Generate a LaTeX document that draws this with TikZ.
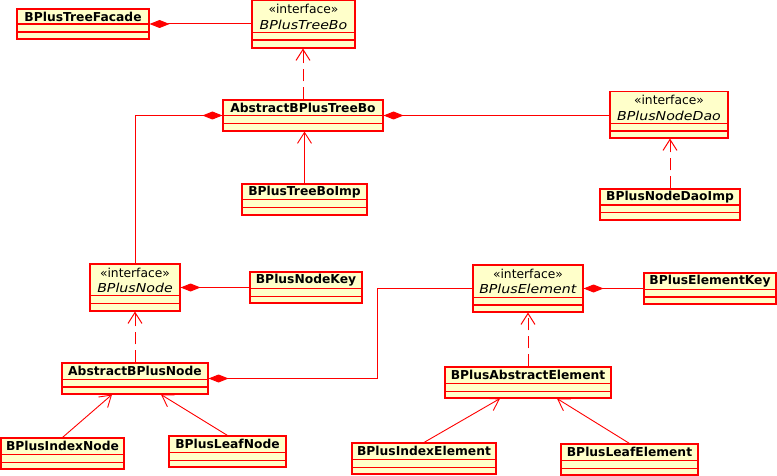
\documentclass[tikz,border=0pt]{standalone}
\usepackage{graphicx}
\usepackage{fontspec}
\setmainfont{DejaVu Sans}[BoldFont={DejaVu Sans Bold},ItalicFont={DejaVu Sans Oblique}]
\usetikzlibrary{arrows.meta,calc}
\definecolor{umlfill}{RGB}{255,255,202}
\definecolor{umlred}{RGB}{255,0,0}
\tikzset{
  umlbox/.style={draw=umlred, fill=umlfill, line width=1.1pt, inner sep=0pt},
  boxline/.style={draw=umlred, line width=1.1pt},
  clslabel/.style={font=\bfseries\fontsize{12.3}{14}\selectfont, inner sep=0pt},
  ifclabel/.style={font=\fontsize{12.3}{15.5}\selectfont, inner sep=0pt, align=center},
  assoc/.style={draw=umlred, line width=1pt, {Diamond[length=20pt,width=8pt]}-},
  realize/.style={draw=umlred, line width=1pt, dash pattern=on 12pt off 6pt, -{Straight Barb[length=11pt,width=14pt]}},
  navig/.style={draw=umlred, line width=0.9pt, -{Straight Barb[length=11pt,width=14pt]}}
}
\newcommand{\umlcls}[8]{%
  \node[umlbox, minimum width={(#4-#2)*1pt}, minimum height={(#5-#3)*1pt}] (#1) at ({(#2+#4)/2},{(#3+#5)/2}) {};
  \draw[boxline] (#2,#6) -- (#4,#6);
  \draw[boxline] (#2,#7) -- (#4,#7);
  \node[clslabel] (#1-t) at ({(#2+#4)/2},{(#3+#6)/2}) {#8};
}
\newcommand{\umlifc}[8]{%
  \node[umlbox, minimum width={(#4-#2)*1pt}, minimum height={(#5-#3)*1pt}] (#1) at ({(#2+#4)/2},{(#3+#5)/2}) {};
  \draw[boxline] (#2,#6) -- (#4,#6);
  \draw[boxline] (#2,#7) -- (#4,#7);
  \node[ifclabel] (#1-t) at ({(#2+#4)/2},{(#3+#6)/2+0.5}) {«interface»\\\scalebox{1.15}[1]{\textit{#8}}};
}
\begin{document}
\begin{tikzpicture}[x=1pt,y=-1pt]
\useasboundingbox[fill=white] (0,0) rectangle (777,476);

\umlcls{Facade}{17}{9}{149}{39}{24}{32}{BPlusTreeFacade}
\umlifc{TreeBo}{252}{0.7}{355}{48}{32.3}{40}{BPlusTreeBo}
\umlcls{AbsTreeBo}{223}{100}{383}{131}{115.7}{123.3}{AbstractBPlusTreeBo}
\umlcls{BoImp}{242}{184}{367}{215}{199.7}{207.7}{BPlusTreeBoImp}
\umlifc{NodeDao}{610}{91.5}{728}{138}{123.3}{131}{BPlusNodeDao}
\umlcls{DaoImp}{600}{189}{740}{220}{205}{212.7}{BPlusNodeDaoImp}
\umlifc{BNode}{90}{264}{180}{311}{295.7}{303.7}{BPlusNode}
\umlcls{NodeKey}{250}{272}{362}{303}{288.3}{296.3}{BPlusNodeKey}
\umlcls{AbsNode}{62}{363}{208}{394}{379.3}{387}{AbstractBPlusNode}
\umlcls{IndexNode}{1}{438}{124}{469}{454.3}{462.3}{BPlusIndexNode}
\umlcls{LeafNode}{169}{436}{286}{467}{452.3}{460.3}{BPlusLeafNode}
\umlifc{BElement}{473}{265}{583}{312}{297.3}{305}{BPlusElement}
\umlcls{ElementKey}{644}{273}{776}{304}{289.3}{297}{BPlusElementKey}
\umlcls{AbsElement}{445}{367}{611}{398}{383.3}{391.3}{BPlusAbstractElement}
\umlcls{IndexElement}{352}{443}{496}{474}{459.3}{467.3}{BPlusIndexElement}
\umlcls{LeafElement}{561}{444}{698}{475}{460.3}{468.3}{BPlusLeafElement}

\coordinate (bend) at (377.5,0);

% compositions
\draw[assoc] (Facade.east) -- (Facade.east -| TreeBo.west);
\draw[assoc] (AbsTreeBo.east) -- (AbsTreeBo.east -| NodeDao.west);
\draw[assoc] (AbsTreeBo.west) -| (BNode.north);
\draw[assoc] (BNode.east) -- (BNode.east -| NodeKey.west);
\draw[assoc] (AbsNode.east) -- (AbsNode.east -| bend) |- (BElement.west);
\draw[assoc] (BElement.east) -- (BElement.east -| ElementKey.west);

% realizations
\draw[realize] (AbsTreeBo.north) -- (AbsTreeBo.north |- TreeBo.south);
\draw[realize] (DaoImp.north) -- (DaoImp.north |- NodeDao.south);
\draw[realize] (AbsNode.north) -- (AbsNode.north |- BNode.south);
\draw[realize] (AbsElement.north) -- (AbsElement.north |- BElement.south);

% navigable links
\draw[navig] (BoImp.north) -- (BoImp.north |- AbsTreeBo.south);
\draw[navig] (IndexNode.north) -- ($(AbsNode.south)+(-23,0)$);
\draw[navig] (LeafNode.north) -- ($(AbsNode.south)+(26,0)$);
\draw[navig] (IndexElement.north) -- ($(AbsElement.south)+(-28,0)$);
\draw[navig] (LeafElement.north) -- ($(AbsElement.south)+(29,0)$);
\end{tikzpicture}
\end{document}
